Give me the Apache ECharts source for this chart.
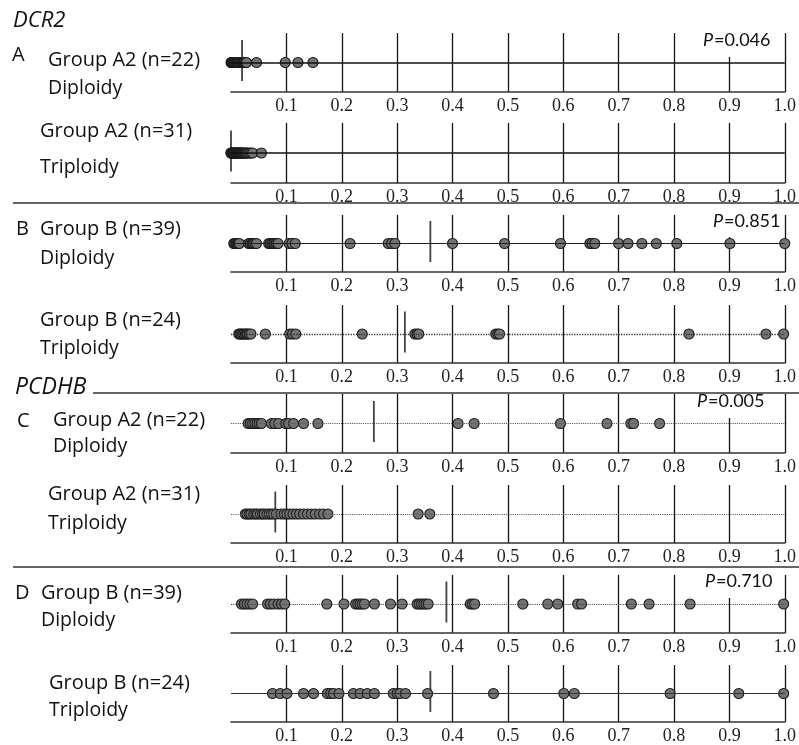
<!DOCTYPE html>
<html><head><meta charset="utf-8">
<script src="https://cdn.jsdelivr.net/npm/echarts@6/dist/echarts.min.js"></script>
<style>html,body{margin:0;padding:0;background:#fff}#c{width:799px;height:745px}</style>
</head><body><div id="c"></div>
<script>
// ---------- data ----------
const tickLabels = ['0.1','0.2','0.3','0.4','0.5','0.6','0.7','0.8','0.9','1.0'];
const groupLabels = ['Group A2 (n=22)','Group A2 (n=31)','Group B (n=39)','Group B (n=24)',
                     'Group A2 (n=22)','Group A2 (n=31)','Group B (n=39)','Group B (n=24)'];
const ploidyLabels = ['Diploidy','Triploidy','Diploidy','Triploidy','Diploidy','Triploidy','Diploidy','Triploidy'];
const sectionTitles = ['DCR2','PCDHB'];
const panelLetters = ['A','B','C','D'];
const pValues = ['0.046','0.851','0.005','0.710'];
const medians = [0.020, 0.0, 0.360, 0.314, 0.258, 0.080, 0.389, 0.360];

const dcr2A2Dip = [0.0,0.001,0.002,0.004,0.005,0.006,0.008,0.010,0.011,0.013,0.015,0.017,0.019,0.021,0.022,0.024,0.026,0.028,0.046,0.098,0.121,0.148];
const dcr2A2Trip = [0.0,0.0,0.001,0.002,0.003,0.004,0.005,0.006,0.007,0.008,0.009,0.010,0.011,0.012,0.013,0.015,0.016,0.017,0.018,0.019,0.020,0.022,0.023,0.025,0.027,0.028,0.030,0.033,0.036,0.039,0.055];
const dcr2BDip = [0.005,0.007,0.009,0.011,0.013,0.015,
                  0.032,0.035,0.038,0.040,0.043,0.046,
                  0.068,0.071,0.074,0.077,0.079,0.082,0.085,
                  0.105,0.110,0.116,
                  0.215,0.284,0.290,0.296,
                  0.400,0.494,0.595,0.648,0.652,0.657,0.700,0.717,0.742,0.768,0.805,0.901,1.000];
const dcr2BTrip = [0.014,0.016,0.018,0.021,0.023,0.026,0.028,0.030,0.033,0.036,
                   0.062,0.106,0.111,0.117,0.237,0.332,0.336,0.339,0.478,0.482,0.485,0.827,0.966,0.998];
const pcdhbA2Dip = [0.031,0.035,0.039,0.043,0.047,0.051,0.055,0.073,0.079,0.086,0.099,0.104,0.113,0.131,0.157,
                    0.410,0.439,0.595,0.679,0.722,0.727,0.774];
const pcdhbA2Trip = [0.026,0.029,0.033,0.036,0.041,0.045,0.048,0.053,0.057,0.060,0.065,0.069,0.073,0.077,0.082,
                     0.090,0.096,0.101,0.106,0.112,0.118,0.124,0.131,0.138,0.145,0.152,0.160,0.167,0.175,0.338,0.359];
const pcdhbBDip = [0.019,0.024,0.029,0.034,0.039,
                   0.066,0.071,0.077,0.085,0.091,0.097,
                   0.173,0.204,0.225,0.229,0.233,0.237,0.241,0.259,0.288,0.309,
                   0.336,0.340,0.344,0.348,0.352,0.356,
                   0.432,0.436,0.440,0.527,0.572,0.590,0.626,0.633,0.723,0.755,0.829,0.998];
const pcdhbBTrip = [0.075,0.089,0.101,0.131,0.149,0.174,0.180,0.185,0.195,0.221,0.233,0.246,0.259,
                    0.293,0.300,0.305,0.315,0.355,0.474,0.601,0.620,0.793,0.917,0.998];

const panelData = [dcr2A2Dip, dcr2A2Trip, dcr2BDip, dcr2BTrip, pcdhbA2Dip, pcdhbA2Trip, pcdhbBDip, pcdhbBTrip];

// ---------- layout ----------
const panelTops = [33,123,215,305,394,485,575,665];
const axisYs    = [92,183,272,363,453,543,633,723];
const labelX    = [48,40,40,40,53,48,41,49];
const groupY    = [60,131,229,320,420,494,593,683];
const ploidyY   = [88,167,258,348,446,523,620,710];
const letterPos = [[12,55],[16,229],[17,421],[15,593]];
const titlePos  = [[13,21],[15,387]];
// [x, top of white box, centre of text, bottom of white box]
const pPos      = [[703,31,40,57],[713,211,221,237],[697,394,401,418],[705,573,581,598]];
const lineStyles = [
  {type:'solid', color:'#111', width:1.6},
  {type:'solid', color:'#111', width:1.6},
  {type:'solid', color:'#222', width:1.2},
  {type:'dotted', color:'#333', width:1.3},
  {type:'dotted', color:'#555', width:1.1},
  {type:'dotted', color:'#555', width:1.1},
  {type:'dotted', color:'#444', width:1.1},
  {type:'solid', color:'#333', width:1.2}
];

const sansFam = '"Open Sans", "Liberation Sans", sans-serif';
const pFam = 'Lato, "Open Sans", sans-serif';
const grids = [], xAxes = [], yAxes = [], series = [];
panelData.forEach((vals, i) => {
  grids.push({left:231, right:12, top:panelTops[i], height:axisYs[i]-panelTops[i]});
  xAxes.push({
    gridIndex:i, type:'value', min:0, max:1, interval:0.1,
    axisLine:{show:true, onZero:false, lineStyle:{color:'#333', width:1.6}},
    axisTick:{show:false},
    axisLabel:{show:true, margin:5, fontFamily:'"Liberation Serif", serif', fontSize:18, color:'#222',
      showMinLabel:false,
      formatter: v => { const k = Math.round(v*10)-1; return k>=0 ? tickLabels[k] : ''; }},
    splitLine:{show:true, showMinLine:false, lineStyle:{color:'#111', width:1.3}}
  });
  yAxes.push({gridIndex:i, type:'value', min:-1, max:1, show:false});
  series.push({
    type:'scatter', xAxisIndex:i, yAxisIndex:i, z:2,
    data:[[medians[i],0]], symbol:'rect', symbolSize:[1.8,41], symbolOffset:[0,-2],
    itemStyle:{color:'#111'}, silent:true,
    markLine:{silent:true, symbol:'none', label:{show:false}, lineStyle:lineStyles[i], data:[{yAxis:0}], animation:false}
  });
  series.push({
    type:'scatter', xAxisIndex:i, yAxisIndex:i, z:3,
    data: vals.map(v => [v,0]), symbol:'circle', symbolSize:10,
    itemStyle:{color:'#737373', borderColor:'#1a1a1a', borderWidth:1.1, opacity:1}
  });
});

const graphic = [];
sectionTitles.forEach((t, k) => graphic.push({type:'text', x:titlePos[k][0], y:titlePos[k][1],
  style:{text:t, fontSize:k===0?22:23, fontStyle:'italic', fontFamily:sansFam, fill:'#111', verticalAlign:'middle'}}));
panelLetters.forEach((t, k) => graphic.push({type:'text', x:letterPos[k][0], y:letterPos[k][1],
  style:{text:t, fontSize:20, fontFamily:sansFam, fill:'#111', verticalAlign:'middle'}}));
groupLabels.forEach((t, i) => {
  graphic.push({type:'text', x:labelX[i], y:groupY[i], style:{text:t, fontSize:20, fontFamily:sansFam, fill:'#111', verticalAlign:'middle'}});
  graphic.push({type:'text', x:labelX[i], y:ploidyY[i], style:{text:ploidyLabels[i], fontSize:19.5, fontFamily:sansFam, fill:'#111', verticalAlign:'middle'}});
});
pValues.forEach((p, k) => {
  const [px, top, mid, bot] = pPos[k];
  graphic.push({type:'rect', z:10, shape:{x:px-3, y:top, width:66, height:bot-top}, style:{fill:'#fff'}});
  graphic.push({type:'text', z:11, x:px, y:mid,
    style:{text:'P', fontSize:18, fontStyle:'italic', fontFamily:pFam, fill:'#111', verticalAlign:'middle'}});
  graphic.push({type:'text', z:11, x:px+11, y:mid,
    style:{text:'=' + p, fontSize:18, fontFamily:pFam, fill:'#111', verticalAlign:'middle'}});
});
graphic.push({type:'line', z:20, shape:{x1:13,y1:203,x2:799,y2:203}, style:{stroke:'#333', lineWidth:1.6}});
graphic.push({type:'line', z:20, shape:{x1:93,y1:393,x2:799,y2:393}, style:{stroke:'#333', lineWidth:1.6}});
graphic.push({type:'line', z:20, shape:{x1:13,y1:567,x2:799,y2:567}, style:{stroke:'#333', lineWidth:1.6}});

const chart = echarts.init(document.getElementById('c'), null, {renderer:'canvas'});
chart.setOption({animation:false, backgroundColor:'#fff', grid:grids, xAxis:xAxes, yAxis:yAxes, series, graphic});
</script></body></html>
